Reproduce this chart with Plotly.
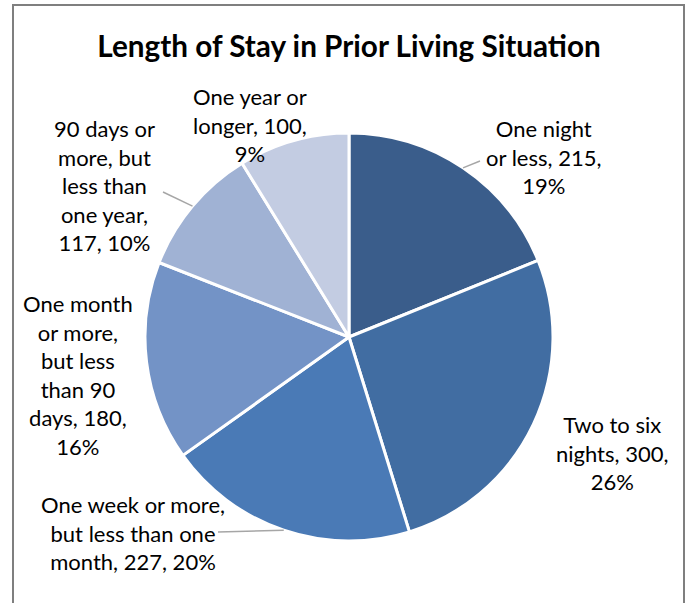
import math
import plotly.graph_objects as go

# data
labels = ["One night or less", "Two to six nights", "One week or more, but less than one month",
          "One month or more, but less than 90 days", "90 days or more, but less than one year",
          "One year or longer"]
values = [215, 300, 227, 180, 117, 100]
percents = ["19%", "26%", "20%", "16%", "10%", "9%"]
label_text = [
    "One night<br>or less, 215,<br>19%",
    "Two to six<br>nights, 300,<br>26%",
    "One week or more,<br>but less than one<br>month, 227, 20%",
    "One month<br>or more,<br>but less<br>than 90<br>days, 180,<br>16%",
    "90 days or<br>more, but<br>less than<br>one year,<br>117, 10%",
    "One year or<br>longer, 100,<br>9%",
]
colors = ["#3A5D8B", "#416DA2", "#4A7AB6", "#7393C6", "#A0B2D4", "#C3CCE2"]

W, H = 691, 603
cx, cy, r = 349, 337, 204  # pie centre / radius in pixels

# label centres (pixels) and elbow of leader line (None = no leader)
label_pos = [(543, 157), (612, 453), (133, 533), (78, 375), (104, 185), (250, 125)]
elbows = [(480, 161), None, (218, 532), None, (163, 192), None]


def px(x, y):
    return x / W, 1 - y / H


fig = go.Figure(go.Pie(
    labels=labels, values=values, sort=False, direction="clockwise", rotation=0,
    marker=dict(colors=colors, line=dict(color="white", width=3)),
    textinfo="none", hoverinfo="label+value+percent", showlegend=False,
    domain=dict(x=[(cx - r) / W, (cx + r) / W], y=[1 - (cy + r) / H, 1 - (cy - r) / H]),
))

total = sum(values)
cum = 0
shapes = []
annotations = []
for i, v in enumerate(values):
    mid = (cum + v / 2) / total * 2 * math.pi
    cum += v
    ax, ay = cx + r * math.sin(mid), cy - r * math.cos(mid)
    if elbows[i]:
        ex, ey = elbows[i]
        x0, y0 = px(ax, ay)
        x1, y1 = px(ex, ey)
        shapes.append(dict(type="line", xref="paper", yref="paper", x0=x0, y0=y0, x1=x1, y1=y1,
                           line=dict(color="#A6A6A6", width=1.5)))
    lx, ly = px(*label_pos[i])
    annotations.append(dict(text=label_text[i], x=lx, y=ly, xref="paper", yref="paper",
                            showarrow=False, xanchor="center", yanchor="middle", align="center",
                            font=dict(family="Lato", size=22, color="black")))

# outer chart frame (bottom cut off)
shapes.append(dict(type="rect", xref="paper", yref="paper",
                   x0=13 / W, x1=684 / W, y0=-0.05, y1=1 - 5 / H,
                   line=dict(color="#7F7F7F", width=2)))

fig.update_layout(
    width=W, height=H, margin=dict(l=0, r=0, t=0, b=0),
    paper_bgcolor="white", plot_bgcolor="white",
    title=dict(text="<b>Length of Stay in Prior Living Situation</b>", x=349 / W, xanchor="center",
               y=1 - 47 / H, yanchor="middle", font=dict(family="Lato", size=29.7, color="black")),
    shapes=shapes, annotations=annotations,
)

fig.write_html("out.html", config={"displayModeBar": False},
               post_script="document.body.style.margin='0';")
